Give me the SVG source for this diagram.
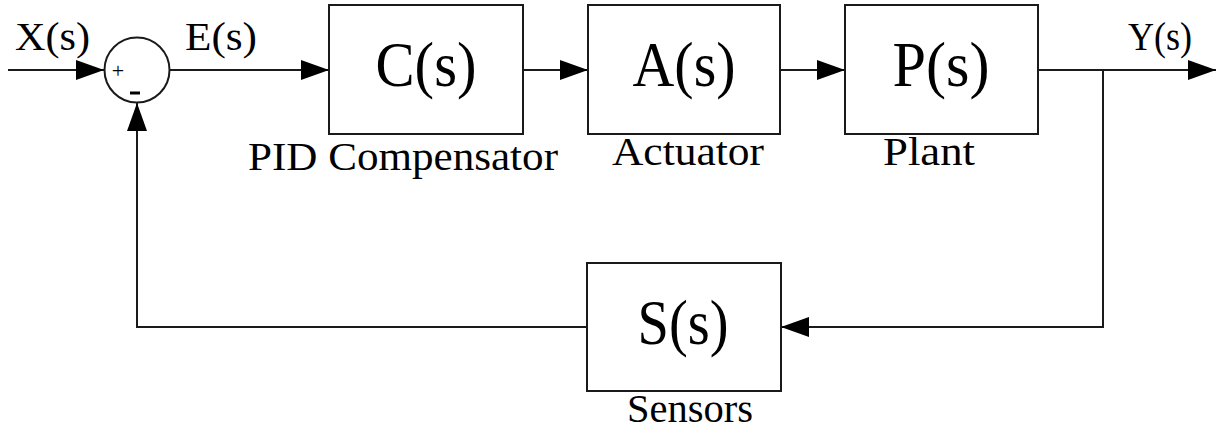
<svg xmlns="http://www.w3.org/2000/svg" width="1222" height="430" viewBox="0 0 1222 430">
  <style>
    .blk { fill: #fff; stroke: #1a1a1a; stroke-width: 2; }
    .wire { fill: none; stroke: #1a1a1a; stroke-width: 2; }
    .big { font-family: "Liberation Serif", "DejaVu Serif", serif; font-size: 63px; fill: #000; text-anchor: middle; }
    .lbl { font-family: "Liberation Serif", "DejaVu Serif", serif; font-size: 40px; fill: #000; }
    .sgn { font-family: "Liberation Serif", "DejaVu Serif", serif; fill: #000; text-anchor: middle; }
  </style>
  <defs>
    <marker id="arrow" markerUnits="userSpaceOnUse" markerWidth="29" markerHeight="21" refX="28" refY="10" orient="auto">
      <path d="M0,0 L28,10 L0,20 Z" fill="#000"/>
    </marker>
  </defs>

  <!-- signal lines -->
  <g id="connectors">
    <path class="wire" d="M8,70 H104" marker-end="url(#arrow)"/>
    <path class="wire" d="M169.5,70 H329" marker-end="url(#arrow)"/>
    <path class="wire" d="M523,70 H588" marker-end="url(#arrow)"/>
    <path class="wire" d="M780,70 H845" marker-end="url(#arrow)"/>
    <path class="wire" d="M1038,70 H1216" marker-end="url(#arrow)"/>
    <path class="wire" d="M1103,70 V327 H781" marker-end="url(#arrow)"/>
    <path class="wire" d="M587,327 H137 V103" marker-end="url(#arrow)"/>
  </g>

  <!-- summing junction -->
  <g id="sum">
    <circle class="blk" cx="137" cy="70" r="32.5"/>
    <text class="sgn" x="118" y="78" font-size="22">+</text>
    <rect x="130" y="91.5" width="10" height="3" fill="#000"/>
  </g>

  <g id="controller">
    <rect class="blk" x="329" y="5" width="194" height="129"/>
    <text class="big" x="426" y="86" textLength="101" lengthAdjust="spacingAndGlyphs">C(s)</text>
    <text class="lbl" x="248" y="170" textLength="310" lengthAdjust="spacingAndGlyphs">PID Compensator</text>
  </g>

  <g id="actuator">
    <rect class="blk" x="588" y="5" width="192" height="129"/>
    <text class="big" x="684" y="86" textLength="103" lengthAdjust="spacingAndGlyphs">A(s)</text>
    <text class="lbl" x="612" y="165" textLength="152" lengthAdjust="spacingAndGlyphs">Actuator</text>
  </g>

  <g id="plant">
    <rect class="blk" x="845" y="5" width="193" height="129"/>
    <text class="big" x="941" y="86" textLength="97" lengthAdjust="spacingAndGlyphs">P(s)</text>
    <text class="lbl" x="883" y="165" textLength="92" lengthAdjust="spacingAndGlyphs">Plant</text>
  </g>

  <g id="sensor">
    <rect class="blk" x="587" y="263" width="194" height="128"/>
    <text class="big" x="683" y="344" textLength="91" lengthAdjust="spacingAndGlyphs">S(s)</text>
    <text class="lbl" x="627" y="422" font-size="38" textLength="126" lengthAdjust="spacingAndGlyphs">Sensors</text>
  </g>

  <g id="signals">
    <text class="lbl" x="15" y="50" textLength="75" lengthAdjust="spacingAndGlyphs">X(s)</text>
    <text class="lbl" x="185" y="50" textLength="72" lengthAdjust="spacingAndGlyphs">E(s)</text>
    <text class="lbl" x="1128" y="50" textLength="64" lengthAdjust="spacingAndGlyphs">Y(s)</text>
  </g>
</svg>
